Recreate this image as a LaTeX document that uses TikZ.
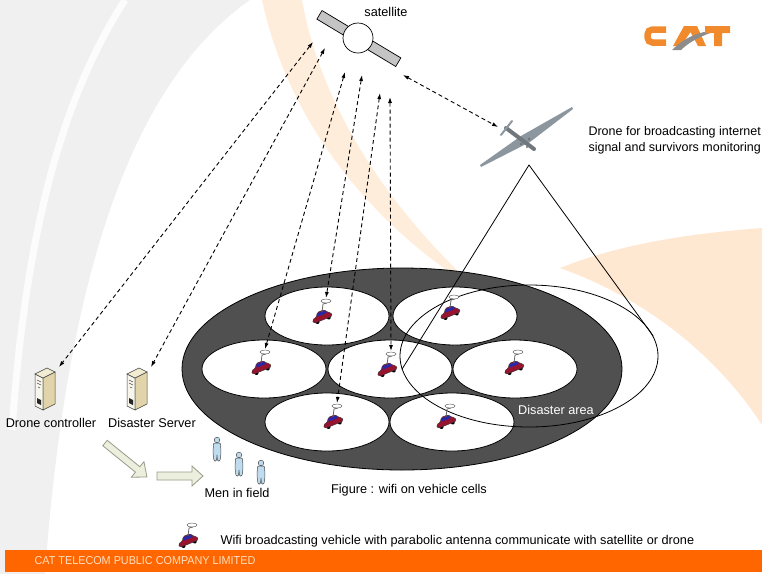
\documentclass[tikz,border=0pt]{standalone}
\usepackage{fontspec}
\setmainfont{Liberation Sans}
\usetikzlibrary{positioning}
\usetikzlibrary{shapes.geometric}
\usetikzlibrary{arrows.meta}
\definecolor{catorange}{RGB}{255,102,0}
\definecolor{logoorange}{RGB}{240,138,44}
\definecolor{fieldgray}{RGB}{80,80,80}
\definecolor{carred}{RGB}{150,20,45}
\definecolor{carblue}{RGB}{40,40,170}
\definecolor{arrowfill}{RGB}{236,238,222}
\definecolor{arrowedge}{RGB}{150,156,136}
\definecolor{panelgray}{RGB}{196,196,196}
\definecolor{mancolor}{RGB}{190,220,238}
\definecolor{dronegray}{RGB}{140,150,158}
\definecolor{servertop}{RGB}{242,236,210}
\definecolor{serverside}{RGB}{226,212,170}
\definecolor{serverfront}{RGB}{248,246,236}

\begin{document}
\begin{tikzpicture}[x=1pt, y=-1pt, font=\fontsize{12.7}{15}\selectfont,
    cell/.style={ellipse, draw, thick, fill=white,
        minimum width=124pt, minimum height=58pt, inner sep=0pt},
    link/.style={line width=0.9pt, dash pattern=on 4pt off 3pt,
        {Latex[length=6pt,width=4pt]}-{Latex[length=6pt,width=4pt]}},
    blockarrow/.style={fill=arrowfill, draw=arrowedge, line width=0.8pt},
    vehicle/.pic={
        \begin{scope}[rotate=22]
            \fill[black] (-6,3) circle (2) (6,3) circle (2);
            \filldraw[fill=carred, draw=black!80, line width=0.4pt, rounded corners=1.5pt]
                (-10,3) -- (-10,-1) -- (-5,-2) -- (-3,-6) -- (5,-6) -- (7,-2) -- (10,-1) -- (10,3) -- cycle;
            \fill[carblue] (-3,-5) -- (5,-5) -- (6,-2) -- (-4,-2) -- cycle;
        \end{scope}
        \draw[black!60, line width=0.8pt] (0,-5) -- (1,-13) -- (5,-14);
        \filldraw[fill=white, draw=black!60, line width=0.5pt] (4,-16) ellipse (5 and 2);
        \coordinate (-dish) at (4,-19);
    },
    server/.pic={
        \filldraw[fill=serverfront, draw=black!75, line width=0.5pt] (-10,-15) -- (-2,-11) -- (-2,21) -- (-10,17) -- cycle;
        \filldraw[fill=serverside, draw=black!75, line width=0.5pt] (-2,-11) -- (10,-17) -- (10,15) -- (-2,21) -- cycle;
        \filldraw[fill=servertop, draw=black!75, line width=0.5pt] (-10,-15) -- (2,-21) -- (10,-17) -- (-2,-11) -- cycle;
        \draw[black!70, line width=0.5pt] (-8,-9) -- (-4,-7) (-8,-6) -- (-4,-4) (-7,-2) -- (-5,-1);
        \fill[black!85] (-8,9) -- (-4,11) -- (-4,16) -- (-8,14) -- cycle;
        \coordinate (-top) at (14,-22);
    },
    man/.pic={
        \filldraw[fill=mancolor, draw=black!70, line width=0.5pt] (0,-9) circle (2.8);
        \filldraw[fill=mancolor, draw=black!70, line width=0.5pt, rounded corners=1pt]
            (-3.5,-6) -- (3.5,-6) -- (4,4) -- (3,12) -- (0.5,12) -- (0,5) -- (-0.5,12) -- (-3,12) -- (-4,4) -- cycle;
    },
    drone/.pic={
        \fill[dronegray] (-45,27) -- (-4,-2) -- (47,-31) -- (48,-29) -- (5,4) -- (-44,29) -- cycle;
        \draw[dronegray!80!black, line width=4pt, line cap=round] (-19,-10) -- (9,11);
        \draw[dronegray, line width=2pt, line cap=round] (-24,-3) -- (-13,-17);
        \fill[black!55] (-4,6) circle (1.5) (4,1) circle (1.5) (2,9) circle (1.2);
        \coordinate (-link) at (-27,-11);
    }
]
\useasboundingbox (0,0) rectangle (762,574);

% backdrop swooshes
\fill[black!6] (0,0) -- (250,0) .. controls (150,70) and (70,230) .. (45,574) -- (0,574) -- cycle;
\draw[white, line width=7pt, opacity=0.8] (125,0) .. controls (60,100) and (25,240) .. (12,430);
\fill[orange!14] (262,0) -- (302,0) .. controls (322,110) and (390,210) .. (480,292) .. controls (380,232) and (290,130) .. (262,0) -- cycle;
\fill[orange!18] (560,268) .. controls (630,240) and (710,232) .. (762,228) -- (762,425) .. controls (720,360) and (650,300) .. (560,268) -- cycle;

% footer band
\fill[catorange] (5,550) rectangle (762,572);
\node[text=orange!25, font=\fontsize{11.5}{13}\selectfont, xscale=0.94] (footer) at (145,561) {CAT TELECOM PUBLIC COMPANY LIMITED};

% logo
\draw[logoorange, line width=6.5pt, rounded corners=5pt] (666,29.5) -- (647.5,29.5) -- (647.5,42.5) -- (666,42.5);
\fill[logoorange] (673,46) -- (684,26) -- (697,26) -- (706,46) -- (698,46) -- (690.5,32) -- (681,46) -- cycle;
\fill[black!45] (672,50) .. controls (685,37) and (700,31) .. (719,30) .. controls (703,35) and (690,41) .. (681,50) -- cycle;
\fill[logoorange] (705,26) rectangle (730,33) (714,26) rectangle (722,46);

% satellite
\begin{scope}[shift={(358,38)}, rotate=-31]
    \filldraw[fill=panelgray, draw=black, line width=0.7pt] (-45,-5) rectangle (-14,5);
    \filldraw[fill=panelgray, draw=black, line width=0.7pt] (14,-5) rectangle (47,5);
\end{scope}
\node[circle, draw, line width=0.7pt, fill=white, minimum size=30pt, inner sep=0pt] (sat) at (358,38) {};
\node (satlabel) at (386,12) {satellite};

% drone and its footprint
\pic (uav) at (525,138) {drone};
\node[anchor=west, align=left, font=\fontsize{12.5}{16}\selectfont] (uavlabel) at (585,140) {Drone for broadcasting internet\\signal and survivors monitoring};

% field with the vehicle cells
\node[ellipse, draw, thick, fill=fieldgray, minimum width=440pt, minimum height=202pt] (field) at (402,369) {};
\node[cell] (c1) at (327,316) {};
\node[cell] (c2) at (455,316) {};
\node[cell] (c3) at (264,369) {};
\node[cell] (c4) at (390,369) {};
\node[cell] (c5) at (515,369) {};
\node[cell] (c6) at (327,422) {};
\node[cell] (c7) at (452,422) {};

\node[ellipse, draw, thick, minimum width=258pt, minimum height=142pt] (area) at (529,356) {};
\coordinate (apex) at (529,165);
\draw[thick] (area.186) -- (apex) -- (area.9);
\node[text=white] (arealabel) at (556,410) {Disaster area};

\pic (v1) at (322,317) {vehicle};
\pic (v2) at (450,313) {vehicle};
\pic (v3) at (261,368) {vehicle};
\pic (v4) at (387,370) {vehicle};
\pic (v5) at (514,368) {vehicle};
\pic (v6) at (333,422) {vehicle};
\pic (v7) at (446,422) {vehicle};

\node (fieldlabel) at (409,490) {Figure : wifi on vehicle cells};

% ground station
\pic (dc) at (45,389) {server};
\pic (ds) at (137,389) {server};
\node (dclabel) at (51,423) {Drone controller};
\node (dslabel) at (152,423) {Disaster Server};

\begin{scope}[shift={(105,443)}, rotate=-39]
    \filldraw[blockarrow] (0,-3.5) -- (42,-3.5) -- (42,-10) -- (54,0) -- (42,10) -- (42,3.5) -- (0,3.5) -- cycle;
\end{scope}
\filldraw[blockarrow] (157,472) -- (192,472) -- (192,466) -- (203,476) -- (192,486) -- (192,480) -- (157,480) -- cycle;

\pic at (217,449) {man};
\pic at (239,464) {man};
\pic at (261,472) {man};
\node (menlabel) at (237,493) {Men in field};

% links to the satellite
\coordinate (s1) at (313,42);
\coordinate (s2) at (325,48);
\coordinate (s3) at (345,72);
\coordinate (s4) at (362,75);
\coordinate (s5) at (380,93);
\coordinate (s6) at (390,97);
\coordinate (s7) at (403,75);
\draw[link] (s1) -- (dc-top);
\draw[link] (s2) -- (ds-top);
\draw[link] (s3) -- (v3-dish);
\draw[link] (s4) -- (v1-dish);
\draw[link] (s5) -- (v6-dish);
\draw[link] (s6) -- (v4-dish);
\draw[link] (s7) -- (uav-link);

% legend
\pic (legend) at (188,541) {vehicle};
\node[anchor=west] (legendlabel) at (217,541) {Wifi broadcasting vehicle with parabolic antenna communicate with satellite or drone};
\end{tikzpicture}
\end{document}
